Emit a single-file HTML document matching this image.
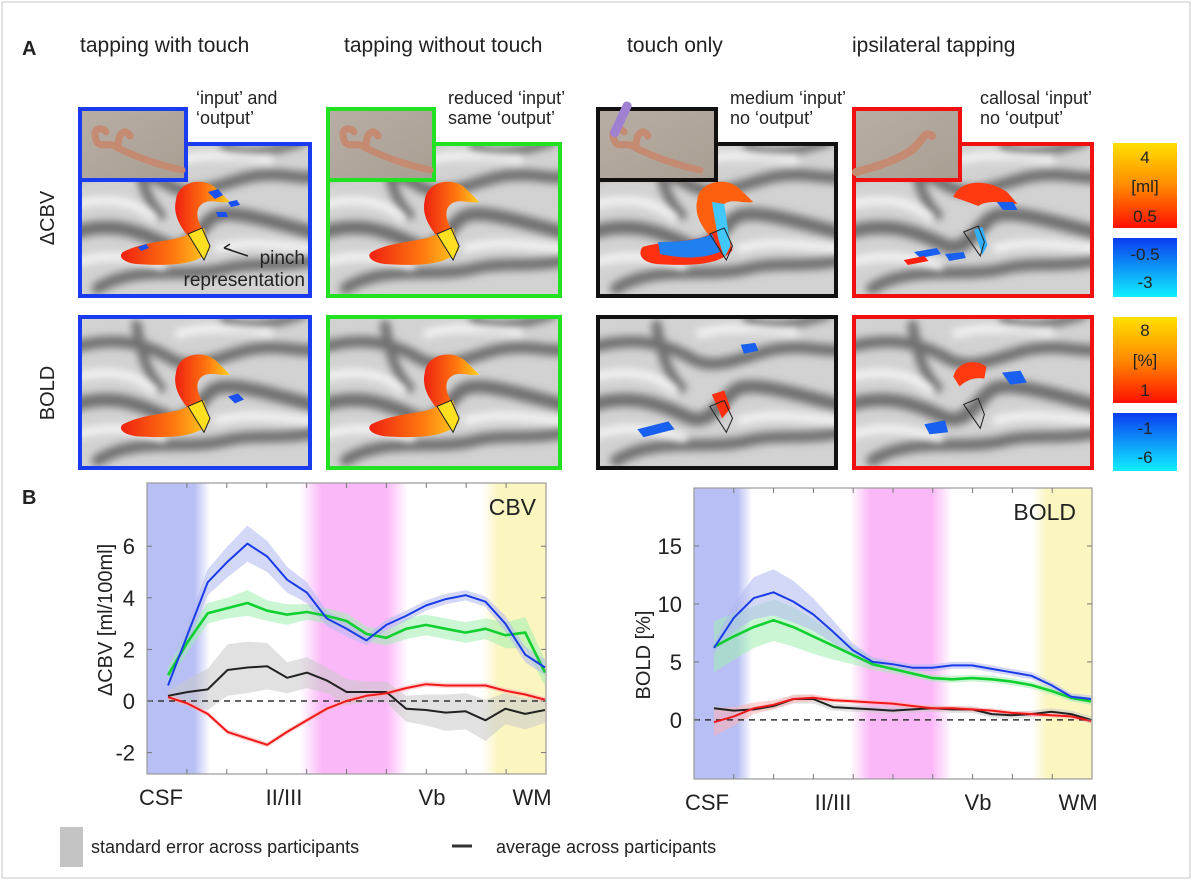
<!DOCTYPE html>
<html><head><meta charset="utf-8">
<style>
html,body{margin:0;padding:0;background:#fff;}
body{width:1200px;height:879px;overflow:hidden;font-family:"Liberation Sans",sans-serif;}
svg text{font-family:"Liberation Sans",sans-serif;fill:#222;}
</style></head>
<body>
<svg id="fig" width="1200" height="879" viewBox="0 0 1200 879" xmlns="http://www.w3.org/2000/svg">
<defs>
  <filter id="blur4"><feGaussianBlur stdDeviation="4"/></filter>
  <linearGradient id="actGrad" x1="0" y1="0" x2="1" y2="0">
    <stop offset="0" stop-color="#f02010"/><stop offset="0.6" stop-color="#ff7a10"/><stop offset="1" stop-color="#ffd020"/>
  </linearGradient>
  <linearGradient id="cbarWarm" x1="0" y1="0" x2="0" y2="1">
    <stop offset="0" stop-color="#ffe000"/><stop offset="0.5" stop-color="#ff8a00"/><stop offset="1" stop-color="#ff1000"/>
  </linearGradient>
  <linearGradient id="cbarCool" x1="0" y1="0" x2="0" y2="1">
    <stop offset="0" stop-color="#0a3cf0"/><stop offset="1" stop-color="#10f0ff"/>
  </linearGradient>
  <linearGradient id="bandBlue" x1="0" y1="0" x2="1" y2="0">
    <stop offset="0" stop-color="#b8bff5"/><stop offset="0.75" stop-color="#b8bff5"/><stop offset="1" stop-color="#b8bff5" stop-opacity="0"/>
  </linearGradient>
  <linearGradient id="bandPink" x1="0" y1="0" x2="1" y2="0">
    <stop offset="0" stop-color="#fbb8f8" stop-opacity="0"/><stop offset="0.2" stop-color="#fbb8f8"/><stop offset="0.8" stop-color="#fbb8f8"/><stop offset="1" stop-color="#fbb8f8" stop-opacity="0"/>
  </linearGradient>
  <linearGradient id="bandYellow" x1="0" y1="0" x2="1" y2="0">
    <stop offset="0" stop-color="#fbf5c0" stop-opacity="0"/><stop offset="0.25" stop-color="#fbf5c0"/><stop offset="1" stop-color="#fbf5c0"/>
  </linearGradient>
  <linearGradient id="photoGrad" x1="0" y1="0" x2="1" y2="1">
    <stop offset="0" stop-color="#b8aea4"/><stop offset="1" stop-color="#a89e92"/>
  </linearGradient>
  <symbol id="brain" viewBox="0 0 240 160" preserveAspectRatio="none">
    <rect width="240" height="160" fill="#d2d2d2"/>
    <g fill="none" stroke="#707070" stroke-linecap="round" filter="url(#blur4)">
      <path d="M-10,35 C40,20 70,30 95,45 C120,60 150,40 180,35 C210,30 230,40 250,35" stroke-width="12"/>
      <path d="M60,10 C65,40 70,60 85,75" stroke-width="10"/>
      <path d="M-10,95 C30,80 60,90 90,105 C110,115 120,95 135,80 C150,65 190,80 250,95" stroke-width="14"/>
      <path d="M20,150 C60,125 110,140 150,130 C180,122 210,130 250,120" stroke-width="12"/>
      <path d="M150,5 C170,15 200,10 230,0" stroke-width="9"/>
    </g>
    <g fill="none" stroke="#f6f6f6" stroke-width="8" filter="url(#blur4)">
      <path d="M-5,65 C30,55 60,60 80,80"/>
      <path d="M140,110 C170,100 200,105 245,110"/>
      <path d="M100,20 C130,10 160,15 200,18"/>
      <path d="M-5,125 C30,112 60,118 90,128"/>
    </g>
  </symbol>
</defs>

<rect x="2" y="2" width="1188" height="876" fill="none" stroke="#d8d8d8" stroke-width="1.5"/>

<text x="22" y="55" font-size="20" font-weight="bold">A</text>
<text x="22" y="504" font-size="20" font-weight="bold">B</text>

<g font-size="21">
  <text x="80" y="52">tapping with touch</text>
  <text x="344" y="52">tapping without touch</text>
  <text x="627" y="52">touch only</text>
  <text x="852" y="52">ipsilateral tapping</text>
</g>

<g font-size="18">
  <text x="196" y="104">‘input’ and</text>
  <text x="196" y="124">‘output’</text>
  <text x="448" y="104">reduced ‘input’</text>
  <text x="448" y="124">same ‘output’</text>
  <text x="730" y="104">medium ‘input’</text>
  <text x="730" y="124">no ‘output’</text>
  <text x="980" y="104">callosal ‘input’</text>
  <text x="980" y="124">no ‘output’</text>
</g>

<text transform="translate(54,218) rotate(-90)" text-anchor="middle" font-size="20">ΔCBV</text>
<text transform="translate(54,393) rotate(-90)" text-anchor="middle" font-size="20">BOLD</text>

<g id="panels"></g>

<g>
  <rect x="1113" y="143" width="64" height="85" fill="url(#cbarWarm)"/>
  <rect x="1113" y="238" width="64" height="59" fill="url(#cbarCool)"/>
  <g font-size="17" text-anchor="middle">
    <text x="1145" y="163">4</text><text x="1145" y="192">[ml]</text><text x="1145" y="222">0.5</text>
    <text x="1145" y="260">-0.5</text><text x="1145" y="288">-3</text>
  </g>
</g>
<g>
  <rect x="1113" y="317" width="64" height="86" fill="url(#cbarWarm)"/>
  <rect x="1113" y="413" width="64" height="58" fill="url(#cbarCool)"/>
  <g font-size="17" text-anchor="middle">
    <text x="1145" y="336">8</text><text x="1145" y="366">[%]</text><text x="1145" y="396">1</text>
    <text x="1145" y="434">-1</text><text x="1145" y="463">-6</text>
  </g>
</g>

<g id="charts"></g>

<g>
  <rect x="60" y="827" width="23" height="40" fill="#c4c4c4"/>
  <text x="91" y="853" font-size="18">standard error across participants</text>
  <line x1="452" y1="846" x2="472" y2="846" stroke="#333" stroke-width="3"/>
  <text x="496" y="853" font-size="18">average across participants</text>
</g>
</svg>

<script>
// ---- chart data ----
const depthLabels = ["CSF", "II/III", "Vb", "WM"];
const cbvTicks = [-2, 0, 2, 4, 6];
const boldTicks = [0, 5, 10, 15];
const cbvBlue  = [0.6, 2.6, 4.6, 5.4, 6.1, 5.6, 4.7, 4.2, 3.2, 2.8, 2.35, 2.95, 3.3, 3.7, 3.95, 4.1, 3.85, 3.0, 1.8, 1.3];
const cbvGreen = [1.0, 2.3, 3.4, 3.6, 3.8, 3.5, 3.35, 3.45, 3.3, 3.1, 2.6, 2.45, 2.8, 2.95, 2.8, 2.65, 2.8, 2.55, 2.65, 1.1];
const cbvBlack = [0.2, 0.35, 0.45, 1.2, 1.3, 1.35, 0.9, 1.1, 0.8, 0.35, 0.35, 0.35, -0.3, -0.35, -0.45, -0.4, -0.75, -0.3, -0.5, -0.35];
const cbvRed   = [0.15, -0.1, -0.5, -1.2, -1.45, -1.7, -1.2, -0.75, -0.3, 0.0, 0.2, 0.3, 0.5, 0.65, 0.6, 0.6, 0.6, 0.4, 0.25, 0.05];
const cbvBlueErr  = [0.2, 0.4, 0.5, 0.6, 0.7, 0.6, 0.5, 0.4, 0.3, 0.3, 0.2, 0.2, 0.2, 0.2, 0.2, 0.2, 0.2, 0.3, 0.3, 0.3];
const cbvGreenErr = [0.3, 0.4, 0.4, 0.4, 0.5, 0.4, 0.4, 0.3, 0.3, 0.3, 0.3, 0.3, 0.4, 0.4, 0.4, 0.4, 0.4, 0.5, 0.6, 0.5];
const cbvBlackErr = [0.2, 0.5, 0.8, 1.0, 1.0, 0.9, 0.6, 0.6, 0.5, 0.5, 0.4, 0.4, 0.5, 0.6, 0.7, 0.7, 0.8, 0.6, 0.6, 0.5];
const cbvRedErr   = [0.1, 0.1, 0.1, 0.1, 0.1, 0.1, 0.1, 0.1, 0.1, 0.1, 0.1, 0.1, 0.1, 0.1, 0.1, 0.1, 0.1, 0.1, 0.1, 0.1];
const boldBlue  = [6.2, 8.8, 10.5, 11.0, 10.2, 9.1, 7.6, 6.0, 5.0, 4.8, 4.5, 4.5, 4.7, 4.7, 4.4, 4.1, 3.8, 3.0, 2.0, 1.8];
const boldGreen = [6.3, 7.2, 8.0, 8.6, 8.0, 7.2, 6.4, 5.6, 4.8, 4.4, 4.0, 3.6, 3.5, 3.6, 3.5, 3.3, 3.0, 2.5, 1.9, 1.6];
const boldRed   = [-0.2, 0.3, 1.0, 1.3, 1.8, 1.9, 1.7, 1.6, 1.5, 1.4, 1.2, 1.0, 1.0, 0.9, 0.8, 0.6, 0.5, 0.4, 0.3, -0.1];
const boldBlack = [1.0, 0.8, 0.9, 1.2, 1.8, 1.8, 1.1, 1.0, 0.9, 0.8, 0.9, 1.0, 0.9, 0.9, 0.5, 0.4, 0.5, 0.7, 0.5, 0.0];
const boldBlueErr  = [0.5, 1.2, 1.8, 2.0, 1.8, 1.4, 1.0, 0.6, 0.4, 0.3, 0.3, 0.3, 0.3, 0.3, 0.3, 0.3, 0.3, 0.3, 0.3, 0.3];
const boldGreenErr = [2.2, 2.0, 1.8, 1.8, 1.7, 1.5, 1.2, 0.8, 0.5, 0.4, 0.3, 0.3, 0.3, 0.3, 0.3, 0.3, 0.3, 0.3, 0.3, 0.3];
const boldRedErr   = [1.2, 0.8, 0.5, 0.4, 0.3, 0.3, 0.2, 0.2, 0.2, 0.2, 0.2, 0.2, 0.2, 0.2, 0.2, 0.2, 0.2, 0.2, 0.2, 0.2];
const boldBlackErr = [0.2, 0.2, 0.2, 0.3, 0.4, 0.4, 0.3, 0.3, 0.3, 0.3, 0.3, 0.3, 0.3, 0.3, 0.3, 0.3, 0.3, 0.3, 0.3, 0.3];

const NS = "http://www.w3.org/2000/svg";
function mk(tag, attrs, parent){const e=document.createElementNS(NS,tag);for(const k in attrs)e.setAttribute(k,attrs[k]);parent.appendChild(e);return e;}

// ---- brain panels ----
const panelsG = document.getElementById("panels");
const cols = [
  {x:78,w:234,c:"#1a3cf0",kind:0},
  {x:326,w:236,c:"#22e022",kind:1},
  {x:596,w:242,c:"#111111",kind:2},
  {x:852,w:242,c:"#f01010",kind:3}
];
const rows = [{y:142,h:156},{y:315,h:155}];
const colNames = ["tapping-with-touch","tapping-without-touch","touch-only","ipsilateral-tapping"];
cols.forEach((col,ci)=>{
  rows.forEach((row,ri)=>{
    const g = mk("g",{},panelsG);
    
    
    const yOff = row.y;
    mk("use",{href:"#brain",x:col.x,y:yOff,width:col.w,height:row.h},g);
    const a = mk("g",{transform:`translate(${col.x},${yOff}) scale(${col.w/234},${row.h/156})`},g);
    const k = col.kind;
    if(k<=1){
      mk("path",{d:"M98,58 C100,38 128,34 140,48 L152,60 C142,62 132,56 124,62 C116,68 120,80 124,86 L110,94 C100,82 95,70 98,58Z",fill:"url(#actGrad)"},a);
      mk("path",{d:"M45,110 C68,98 98,100 110,92 L126,86 L132,108 C120,124 88,124 58,122 C44,120 40,114 45,110Z",fill:"url(#actGrad)"},a);
      mk("path",{d:"M110,92 L124,86 L132,104 L126,118 Z",fill:"#ffe020",stroke:"#222","stroke-width":"1"},a);
      if(ri===0 && k===0){
        mk("path",{d:"M130,50 l10,-3 l5,6 l-8,4z M150,60 l9,-2 l3,5 l-9,2z M138,70 l10,0 l2,5 l-10,0z M60,105 l8,-3 l3,4 l-8,3z",fill:"#1a50f0"},a);
      }
      if(ri===1 && k===0){
        mk("path",{d:"M150,82 l10,-3 l6,6 l-9,4z",fill:"#1a50f0"},a);
      }
    } else if(k===2){
      if(ri===0){
        mk("path",{d:"M98,58 C100,38 128,34 140,48 L152,60 C142,62 132,56 124,62 C116,68 120,80 124,86 L110,94 C100,82 95,70 98,58Z",fill:"#ff6010"},a);
        mk("path",{d:"M45,105 C68,98 98,100 110,92 L126,86 L132,108 C120,124 88,124 58,122 C44,120 40,112 45,105Z",fill:"#ff3010"},a);
        mk("path",{d:"M60,100 C80,100 100,98 112,92 L120,110 C100,118 80,116 62,112Z",fill:"#2080f0"},a);
        mk("path",{d:"M112,60 L124,62 L130,104 L124,116 L118,96Z",fill:"#40c8ff"},a);
      } else {
        mk("path",{d:"M112,80 l12,-4 l6,18 l-8,10 z",fill:"#ff3010"},a);
        mk("path",{d:"M40,115 l30,-8 l6,8 l-30,8z M140,30 l14,-2 l3,8 l-14,3z",fill:"#1a60f0"},a);
      }
      mk("path",{d:"M110,92 L124,86 L132,104 L126,118 Z",fill:"none",stroke:"#222","stroke-width":"1"},a);
    } else {
      if(ri===0){
        mk("path",{d:"M98,55 C104,38 130,36 150,50 L160,62 C145,60 130,58 122,64 L112,60Z",fill:"#ff3a10"},a);
        mk("path",{d:"M140,60 l16,0 l4,8 l-14,0z M60,110 l22,-4 l4,6 l-20,4z M90,112 l18,-2 l2,6 l-16,3z",fill:"#1a60f0"},a);
        mk("path",{d:"M118,88 l8,-3 l5,18 l-5,10z",fill:"#30b0ff"},a);
        mk("path",{d:"M50,118 l20,-4 l4,5 l-20,4z",fill:"#ff2010"},a);
      } else {
        mk("path",{d:"M98,62 C102,46 120,44 130,52 L128,64 C118,62 110,66 104,72Z",fill:"#ff3a10"},a);
        mk("path",{d:"M145,58 l18,-2 l6,12 l-16,2z M70,110 l20,-4 l3,12 l-18,2z",fill:"#1a60f0"},a);
      }
      mk("path",{d:"M108,90 L122,84 L128,100 L124,114 Z",fill:"none",stroke:"#222","stroke-width":"1"},a);
    }
    mk("rect",{x:col.x+2,y:yOff+2,width:col.w-4,height:row.h-4,fill:"none",stroke:col.c,"stroke-width":"4"},g);
  });
  const ig = mk("g",{},panelsG);
  
  
  const iw = ci===2?122:110;
  mk("rect",{x:col.x+2,y:109,width:iw-4,height:71,fill:"url(#photoGrad)",stroke:col.c,"stroke-width":"4"},ig);
  if(ci<3){
    mk("path",{d:`M${col.x+104},170 C${col.x+80},165 ${col.x+60},158 ${col.x+40},148 C${col.x+30},140 ${col.x+22},150 ${col.x+18},140 C${col.x+14},130 ${col.x+22},125 ${col.x+28},132 M${col.x+40},146 C${col.x+40},132 ${col.x+48},128 ${col.x+52},136`,fill:"none",stroke:"#c48a72","stroke-width":"7","stroke-linecap":"round"},ig);
  } else {
    mk("path",{d:`M${col.x+4},172 C${col.x+30},165 ${col.x+45},160 ${col.x+60},150 C${col.x+70},142 ${col.x+72},130 ${col.x+80},136`,fill:"none",stroke:"#c48a72","stroke-width":"8","stroke-linecap":"round"},ig);
  }
  if(ci===2){
    mk("rect",{x:col.x+20,y:100,width:9,height:38,rx:4,fill:"#a080d0",transform:`rotate(25 ${col.x+24} 120)`},ig);
  }
});
{
  const g = mk("g",{},panelsG);
  
  
  const t1 = mk("text",{x:305,y:264,"font-size":"19","text-anchor":"end"},g); t1.textContent="pinch";
  const t2 = mk("text",{x:305,y:286,"font-size":"19","text-anchor":"end"},g); t2.textContent="representation";
  mk("path",{d:"M248,256 L224,248 M224,248 l6,-4 M224,248 l7,2",stroke:"#222","stroke-width":"1.5",fill:"none"},g);
}

// ---- charts ----
const chartsG = document.getElementById("charts");
function drawChart(cfg){
  const g = mk("g",{},chartsG);
  
  
  const L=cfg.L,R=cfg.R,T=cfg.T,B=cfg.B;
  const n = cfg.series[0].v.length;
  const xs = i => cfg.x0 + (cfg.x1-cfg.x0)*i/(n-1);
  const ys = v => T + (cfg.ymax - v)/(cfg.ymax-cfg.ymin)*(B-T);
  mk("rect",{x:L,y:T,width:R-L,height:B-T,fill:"#fff"},g);
  cfg.bands.forEach(b=>{
    const r = mk("rect",{x:b[0],y:T,width:b[1]-b[0],height:B-T,fill:b[2]},g);
    
    
  });
  cfg.series.forEach(s=>{
    let up="",dn="";
    s.v.forEach((v,i)=>{up+=(i?"L":"M")+xs(i).toFixed(1)+","+ys(v+s.e[i]).toFixed(1);});
    for(let i=n-1;i>=0;i--){dn+="L"+xs(i).toFixed(1)+","+ys(s.v[i]-s.e[i]).toFixed(1);}
    const p = mk("path",{d:up+dn+"Z",fill:s.band,opacity:"0.55"},g);
    
    
  });
  const z = mk("line",{x1:L,x2:R,y1:ys(0),y2:ys(0),stroke:"#333","stroke-width":"1.5","stroke-dasharray":"6,5"},g);
  
  
  cfg.series.forEach(s=>{
    const pl = mk("polyline",{points:s.v.map((v,i)=>xs(i).toFixed(1)+","+ys(v).toFixed(1)).join(" "),fill:"none",stroke:s.c,"stroke-width":s.w||2,"stroke-linejoin":"round"},g);
    
    
  });
  mk("rect",{x:L,y:T,width:R-L,height:B-T,fill:"none",stroke:"#999","stroke-width":"1.2"},g);
  for(let k=1;k<10;k++){
    const tx = L + (R-L)*k/10;
    mk("line",{x1:tx,x2:tx,y1:B,y2:B-5,stroke:"#777"},g);
    mk("line",{x1:tx,x2:tx,y1:T,y2:T+5,stroke:"#777"},g);
  }
  cfg.ticks.forEach(t=>{
    const y = ys(t);
    mk("line",{x1:L,x2:L+5,y1:y,y2:y,stroke:"#777"},g);
    mk("line",{x1:R,x2:R-5,y1:y,y2:y,stroke:"#777"},g);
    const tt = mk("text",{x:L-12,y:y+8,"font-size":"22","text-anchor":"end"},g);
    tt.textContent = t;
    
    
  });
  depthLabels.forEach((lab,i)=>{
    const t = mk("text",{x:cfg.labX[i],y:cfg.labY,"font-size":"22","text-anchor":"middle"},g);
    t.textContent = lab;
    
    
  });
  const yt = mk("text",{transform:`translate(${cfg.ytX},${cfg.ytY}) rotate(-90)`,"font-size":"20","text-anchor":"middle"},g);
  yt.textContent = cfg.ytitle;
  
  
  const ti = mk("text",{x:cfg.titleX,y:cfg.titleY,"font-size":"23","text-anchor":"end"},g);
  ti.textContent = cfg.title;
  
  
}

drawChart({
  name:"cbv-profile-chart", L:147,R:546,T:483,B:774, x0:168,x1:545, ymin:-2.83, ymax:8.45,
  ticks:cbvTicks, labX:[161,284,432,532], labY:805, ytitle:"ΔCBV [ml/100ml]", ytX:112, ytY:620,
  title:"CBV", titleX:536, titleY:515,
  bands:[[147,210,"url(#bandBlue)"],[300,408,"url(#bandPink)"],[482,546,"url(#bandYellow)"]],
  series:[
    {name:"cbv-black",v:cbvBlack,e:cbvBlackErr,c:"#222",band:"#c8c8c8"},
    {name:"cbv-red",v:cbvRed,e:cbvRedErr,c:"#f01818",band:"#ffb0b0"},
    {name:"cbv-green",v:cbvGreen,e:cbvGreenErr,c:"#10d030",band:"#a0eeb0",w:2.6},
    {name:"cbv-blue",v:cbvBlue,e:cbvBlueErr,c:"#1a3ce8",band:"#b0b8f0"}
  ]
});
drawChart({
  name:"bold-profile-chart", L:694,R:1092,T:488,B:779, x0:714,x1:1091, ymin:-5.1, ymax:20,
  ticks:boldTicks, labX:[707,833,978,1078], labY:810, ytitle:"BOLD [%]", ytX:650, ytY:655,
  title:"BOLD", titleX:1076, titleY:520,
  bands:[[694,752,"url(#bandBlue)"],[850,952,"url(#bandPink)"],[1032,1092,"url(#bandYellow)"]],
  series:[
    {name:"bold-black",v:boldBlack,e:boldBlackErr,c:"#222",band:"#c8c8c8"},
    {name:"bold-red",v:boldRed,e:boldRedErr,c:"#f01818",band:"#ffb0b0"},
    {name:"bold-green",v:boldGreen,e:boldGreenErr,c:"#10d030",band:"#a0eeb0",w:2.6},
    {name:"bold-blue",v:boldBlue,e:boldBlueErr,c:"#1a3ce8",band:"#b0b8f0"}
  ]
});
</script>
</body></html>
